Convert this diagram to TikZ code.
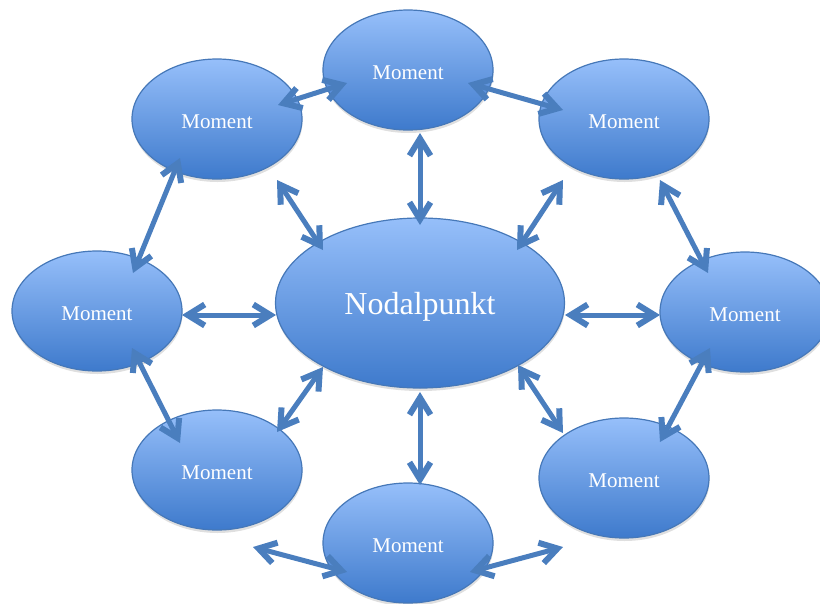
\documentclass[tikz,border=0pt]{standalone}
\usepackage{fontspec}
\setmainfont{Liberation Serif}
\usetikzlibrary{shapes.geometric, arrows.meta, calc, shadows}
\definecolor{linkblue}{RGB}{74,126,190}
\definecolor{rimblue}{RGB}{70,120,184}
\definecolor{lightblue}{RGB}{150,191,250}
\definecolor{darkblue}{RGB}{62,122,204}

\begin{document}
\begin{tikzpicture}[x=1pt, y=-1pt,
    moment/.style={ellipse, draw=rimblue, line width=1.2pt,
        top color=lightblue, bottom color=darkblue,
        minimum width=170, minimum height=120, inner sep=0pt, outer sep=0pt,
        text=white, text height=19pt, font=\fontsize{21}{25}\selectfont,
        drop shadow={opacity=0.25, shadow xshift=0.5pt, shadow yshift=-3pt}},
    hub/.style={moment, minimum width=289, minimum height=170,
        text height=22pt, text depth=0pt, font=\fontsize{32}{38}\selectfont},
    link/.style={draw=linkblue, line width=5pt, line cap=round,
        <->, >={Straight Barb[length=17pt, width=21pt, line width=6pt]}}]
    \useasboundingbox (0,0) rectangle (820,603);

    \node[hub]    at (420,303) (C)  {Nodalpunkt};
    \node[moment] at (408,70)  (T)  {Moment};
    \node[moment] at (217,119) (TL) {Moment};
    \node[moment] at (624,119) (TR) {Moment};
    \node[moment] at (97,311)  (L)  {Moment};
    \node[moment] at (745,312) (R)  {Moment};
    \node[moment] at (217,470) (BL) {Moment};
    \node[moment] at (624,478) (BR) {Moment};
    \node[moment] at (408,543) (B)  {Moment};

    % ring
    \draw[link] ($(TL)+(61,-14)$) -- ($(T)+(-61,13)$);
    \draw[link] ($(T)+(60,13)$)   -- ($(TR)+(-61,-9)$);
    \draw[link] ($(TL)+(-37,39)$) -- ($(L)+(36,-38)$);
    \draw[link] ($(TR)+(36,61)$)  -- ($(R)+(-37,-39)$);
    \draw[link] ($(L)+(35,37)$)   -- ($(BL)+(-37,-27)$);
    \draw[link] ($(R)+(-35,36)$)  -- ($(BR)+(36,-36)$);
    \draw[link] ($(B)+(-155,4)$)  -- ($(B)+(-61,29)$);
    \draw[link] ($(B)+(62,29)$)   -- ($(B)+(155,4)$);

    % spokes
    \draw[link] ($(T)+(12,63)$)   -- ($(C)+(0,-78)$);
    \draw[link] ($(TL)+(60,61)$)  -- ($(C)+(-97,-53)$);
    \draw[link] ($(TR)+(-61,61)$) -- ($(C)+(97,-53)$);
    \draw[link] ($(L)+(85,4)$)    -- ($(C)+(-144,12)$);
    \draw[link] ($(C)+(145,12)$)  -- ($(R)+(-85,3)$);
    \draw[link] ($(C)+(-97,64)$)  -- ($(BL)+(60,-38)$);
    \draw[link] ($(C)+(0,89)$)    -- ($(B)+(12,-58)$);
    \draw[link] ($(C)+(98,62)$)   -- ($(BR)+(-61,-45)$);
\end{tikzpicture}
\end{document}
